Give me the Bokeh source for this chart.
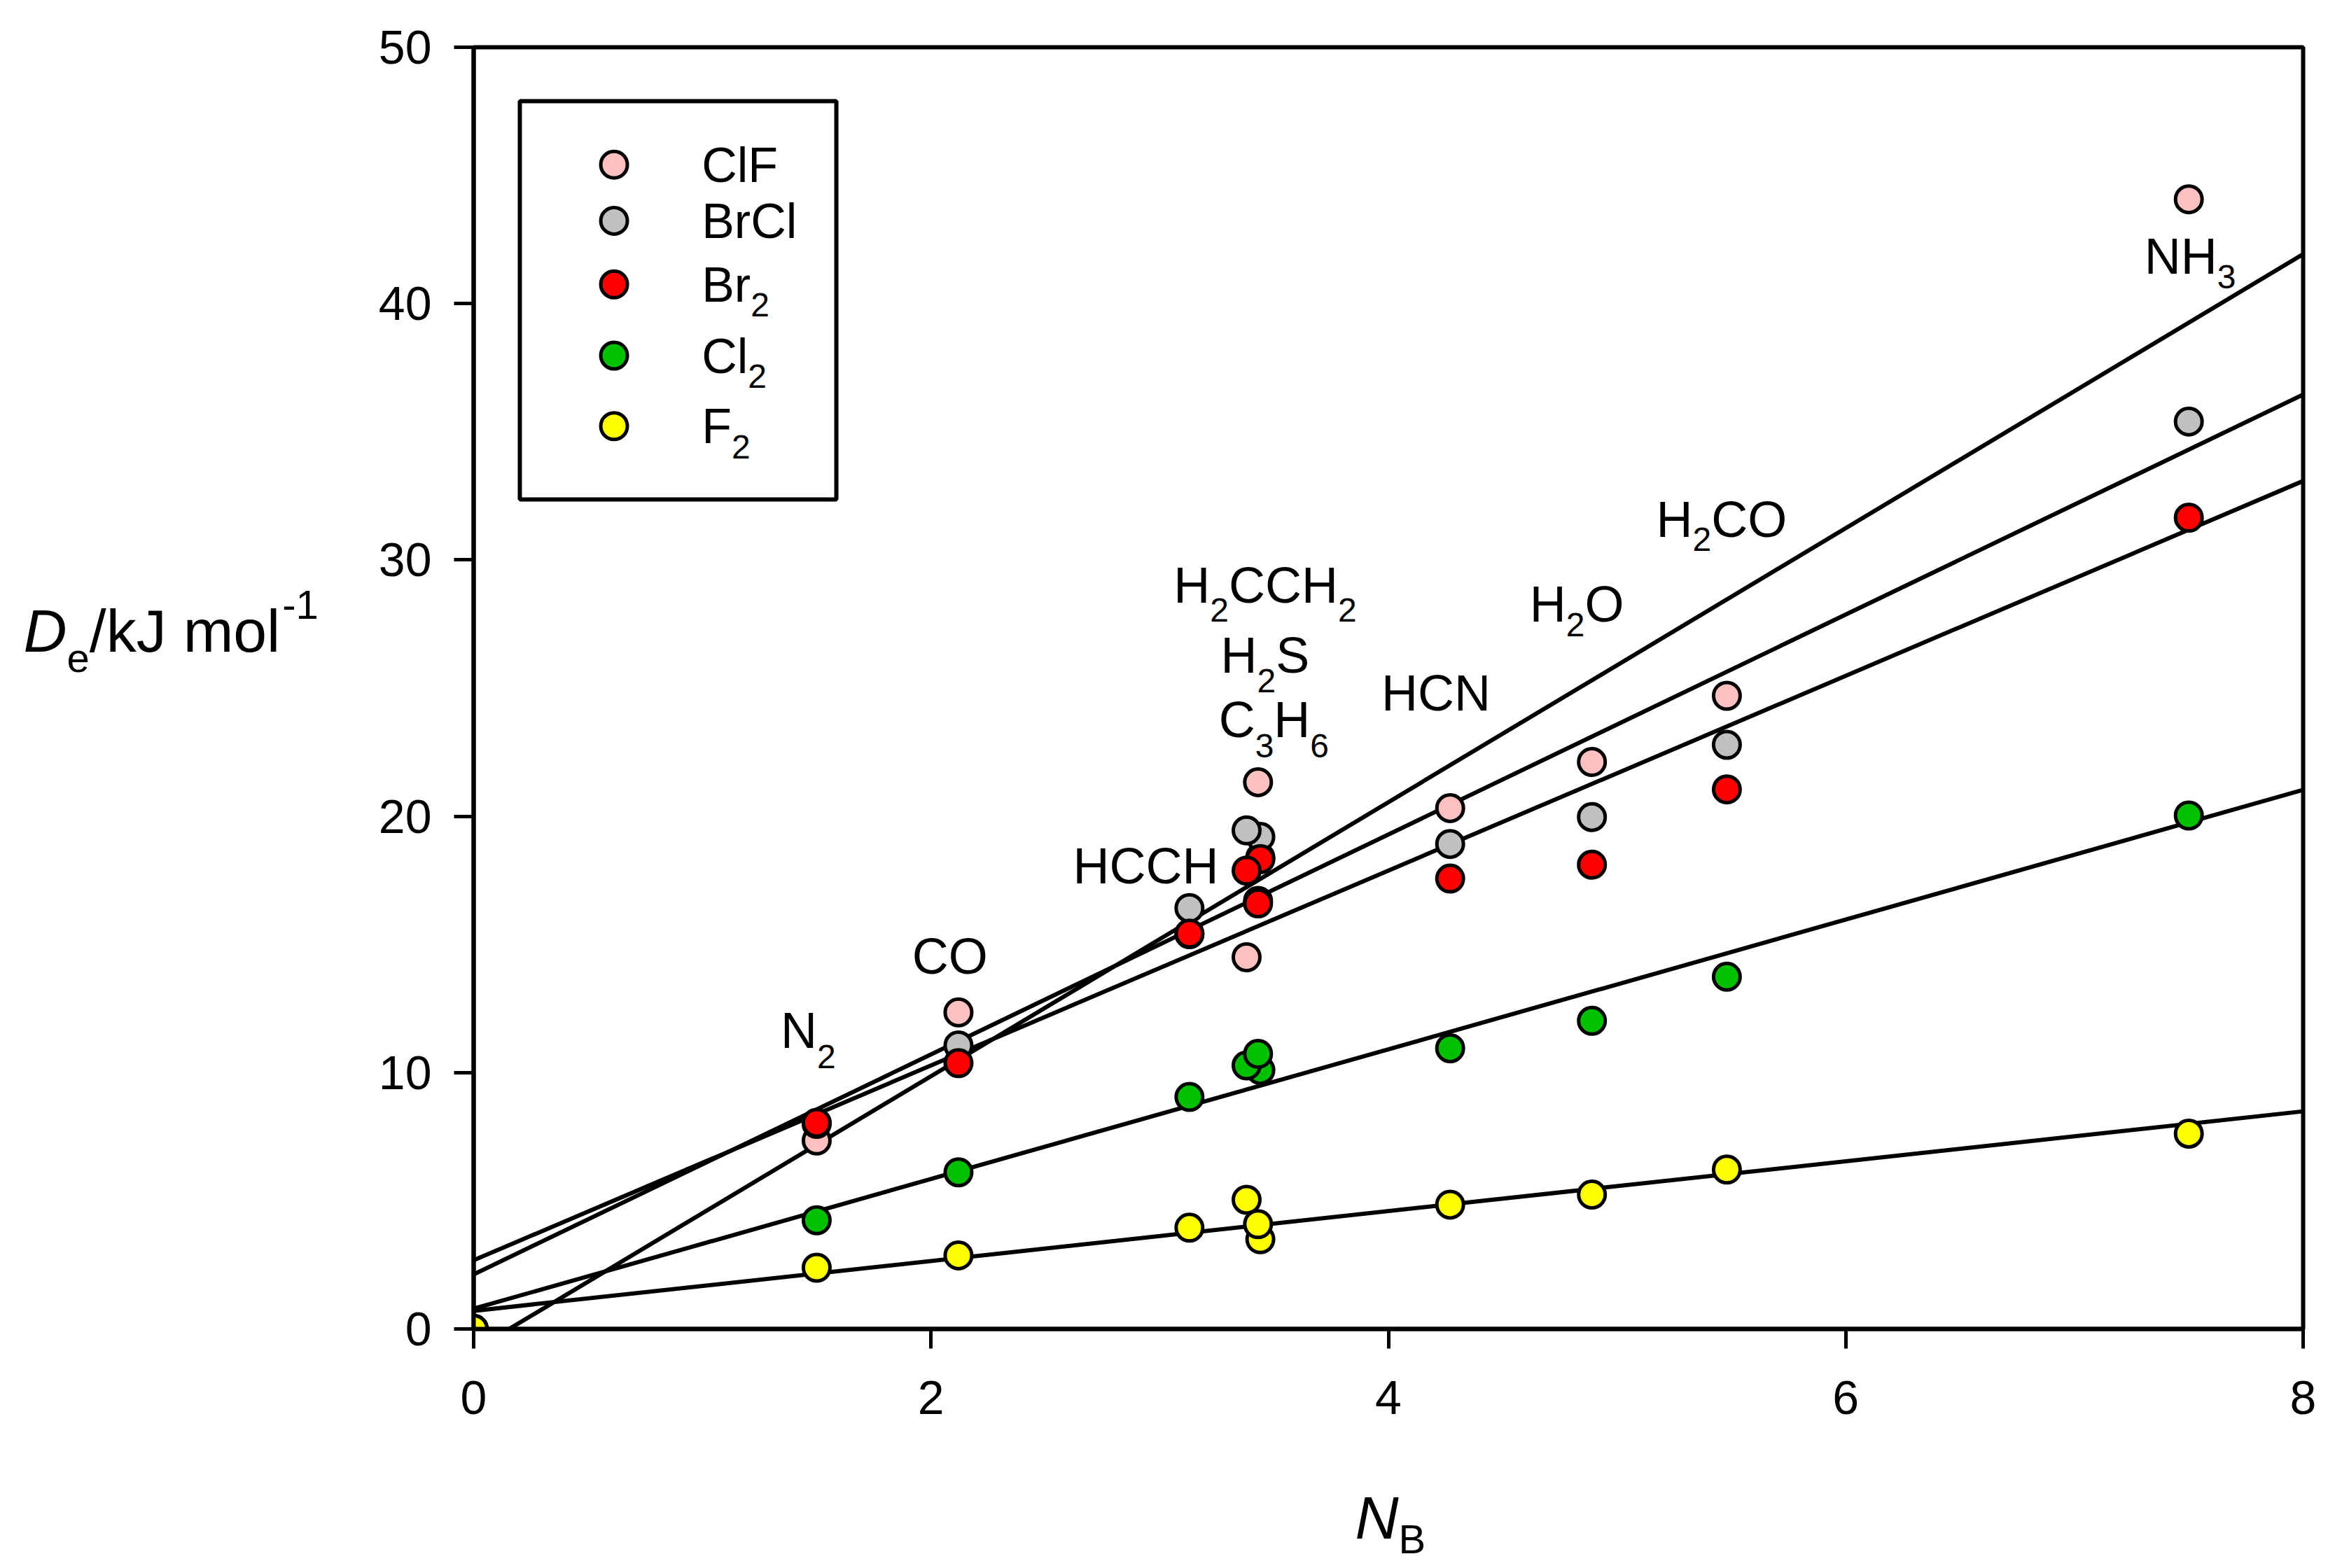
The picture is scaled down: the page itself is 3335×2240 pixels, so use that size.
from bokeh.plotting import figure
from bokeh.models import Range1d, FixedTicker, ColumnDataSource
from bokeh.layouts import row, column
from bokeh.embed import file_html
from bokeh.resources import INLINE
from bokeh.core.properties import value

# ---------------- data ----------------
molecules = ["origin", "N2", "CO", "HCCH", "H2CCH2", "H2S", "C3H6", "HCN", "H2O", "H2CO", "NH3"]
n_b = [0.0, 1.50, 2.12, 3.13, 3.44, 3.38, 3.43, 4.27, 4.89, 5.48, 7.50]

de_clf = [0.0, 7.35, 12.35, 15.40, 18.40, 14.50, 21.33, 20.32, 22.12, 24.70, 44.07]
de_brcl = [0.0, 8.00, 11.06, 16.42, 19.20, 19.45, 16.70, 18.92, 19.97, 22.79, 35.40]
de_br2 = [0.0, 8.04, 10.37, 15.42, 18.33, 17.88, 16.60, 17.57, 18.11, 21.05, 31.65]
de_cl2 = [0.0, 4.24, 6.11, 9.05, 10.10, 10.28, 10.73, 10.95, 12.02, 13.74, 20.03]
de_f2 = [0.0, 2.39, 2.87, 3.95, 3.50, 5.04, 4.09, 4.85, 5.24, 6.22, 7.62]

series_names = ["ClF", "BrCl", "Br2", "Cl2", "F2"]
series_values = [de_clf, de_brcl, de_br2, de_cl2, de_f2]
series_colors = ["#FFC0C0", "#C0C0C0", "#FF0000", "#00C000", "#FFFF00"]

# linear fits drawn in the reference (intercept, slope)
fit_intercept = [-0.83, 2.13, 2.68, 0.79, 0.705]
fit_slope = [5.345, 4.29, 3.80, 2.53, 0.973]
fit_x = [0.0, 8.0]

x_ticks = [0, 2, 4, 6, 8]
y_ticks = [0, 10, 20, 30, 40, 50]

# molecule labels drawn on the chart: text, anchor centre x, baseline y, subscript drop (px)
mol_labels = ["N2", "CO", "HCCH", "H2CCH2", "H2S", "C3H6", "HCN", "H2O", "H2CO", "NH3"]
mol_label_x = [1.463, 2.083, 2.939, 3.461, 3.461, 3.499, 4.208, 4.824, 5.457, 7.506]
mol_label_y = [10.97, 13.84, 17.38, 28.32, 25.59, 23.07, 24.11, 27.59, 30.88, 41.15]
mol_label_drop = [30, 0, 0, 27, 28, 29, 0, 21, 20, 21]

# ---------------- layout ----------------
FONT = "Liberation Sans"
FRAME_W, FRAME_H = 2613, 1831
X0, X1, Y0, Y1 = 0.0, 8.0, 0.0, 50.0
PXX = FRAME_W / (X1 - X0)
PXY = FRAME_H / (Y1 - Y0)

YL_W = 508                      # width of the y-title panel
MAIN_LEFT = 676 - YL_W          # left border of the main plot
MAIN_TOP = 67
MAIN_BOTTOM = 170
MAIN_RIGHT = 30
MAIN_H = MAIN_TOP + FRAME_H + MAIN_BOTTOM
TOTAL_W = YL_W + MAIN_LEFT + FRAME_W + MAIN_RIGHT
XL_H = 2232 - MAIN_H            # height of the x-title panel
MID = 0.35                      # text middle above baseline, in em
YL_SHIFT = 69                   # measured vertical offset of the y-title panel in the row

# Arial / Liberation Sans advance widths (per 1000 em)
W = {"H": 722, "C": 722, "N": 722, "O": 778, "S": 667, "F": 611, "l": 222, "B": 667,
     "r": 333, "D": 722, "e": 556, "/": 278, "k": 500, "J": 500, " ": 278, "m": 833,
     "o": 556, "-": 333}
for d in "0123456789":
    W[d] = 556


def seg_w(s, size):
    return sum(W.get(c, 556) for c in s) / 1000.0 * size


def parse(s):
    segs = []
    for ch in s:
        sub = ch.isdigit()
        if segs and segs[-1][1] == sub:
            segs[-1] = (segs[-1][0] + ch, sub)
        else:
            segs.append((ch, sub))
    return segs


def layout_formula(text, x, base_y, size, sub_size, drop, center=True):
    """pieces in data units; y returned is the vertical middle of each piece"""
    segs = parse(text)
    total = sum(seg_w(t, sub_size if sb else size) for t, sb in segs)
    cur = x - total / 2.0 / PXX if center else x
    out = []
    for t, sb in segs:
        sz = sub_size if sb else size
        yb = base_y - (drop / PXY if sb else 0.0)
        out.append((cur, yb + MID * sz / PXY, t, "%dpx" % sz))
        cur += seg_w(t, sz) / PXX
    return out


def blank_panel(w, h):
    f = figure(frame_width=w, frame_height=h, x_range=Range1d(0, w), y_range=Range1d(0, h),
               x_axis_type=None, y_axis_type=None, output_backend="svg",
               toolbar_location=None, title=None,
               min_border_left=0, min_border_right=0, min_border_top=0, min_border_bottom=0)
    f.outline_line_color = None
    f.grid.visible = False
    f.background_fill_color = "white"
    f.border_fill_color = "white"
    return f


p = figure(x_range=Range1d(X0, X1), y_range=Range1d(Y0, Y1),
           frame_width=FRAME_W, frame_height=FRAME_H,
           min_border_left=MAIN_LEFT, min_border_right=MAIN_RIGHT,
           min_border_top=MAIN_TOP, min_border_bottom=MAIN_BOTTOM,
           output_backend="svg", toolbar_location=None)

p.background_fill_color = "white"
p.border_fill_color = "white"
p.outline_line_color = "black"
p.outline_line_width = 6
p.grid.visible = False

for ax, ticks in ((p.xaxis, x_ticks), (p.yaxis, y_ticks)):
    ax.ticker = FixedTicker(ticks=ticks)
    ax.axis_line_width = 6
    ax.axis_line_color = "black"
    ax.major_tick_line_width = 5
    ax.major_tick_line_color = "black"
    ax.major_tick_in = 0
    ax.major_tick_out = 28
    ax.minor_tick_line_color = None
    ax.major_label_text_font = FONT
    ax.major_label_text_font_size = "68px"
    ax.major_label_text_color = "black"
p.xaxis.major_label_standoff = 46
p.yaxis.major_label_standoff = 32

# fit lines
for b, m in zip(fit_intercept, fit_slope):
    p.line(fit_x, [b + m * xx for xx in fit_x], line_color="black", line_width=6)

# data points
for vals, col in zip(series_values, series_colors):
    p.scatter(n_b, vals, size=38, marker="circle", fill_color=col,
              line_color="black", line_width=5)

# molecule labels
rows = []
for t, lx, ly, dr in zip(mol_labels, mol_label_x, mol_label_y, mol_label_drop):
    rows += layout_formula(t, lx, ly, 72, 48, dr)

# legend box
leg_left, leg_right, leg_bottom, leg_top = 0.202, 1.586, 32.36, 47.9
p.quad(left=[leg_left], right=[leg_right], bottom=[leg_bottom], top=[leg_top],
       fill_color="white", line_color="black", line_width=6)
leg_rows_y = [45.42, 43.23, 40.75, 37.97, 35.22]
leg_marker_x = 0.614
leg_text_x = 0.997
for name, col, ry in zip(series_names, series_colors, leg_rows_y):
    p.scatter([leg_marker_x], [ry], size=38, marker="circle", fill_color=col,
              line_color="black", line_width=5)
    rows += layout_formula(name, leg_text_x, ry - 0.716 * 70 / 2 / PXY, 70, 48, 21, center=False)

src = ColumnDataSource(dict(x=[r[0] for r in rows], y=[r[1] for r in rows],
                            text=[r[2] for r in rows], size=[r[3] for r in rows]))
p.text(x="x", y="y", text="text", text_font_size="size", source=src,
       text_font=value(FONT), text_align="left", text_baseline="middle",
       text_color="black")


def panel_text(f, h, pieces):
    """pieces: (x, baseline_y_from_top, text, size, italic)"""
    for x, yb, t, sz, it in pieces:
        f.text(x=[x], y=[h - (yb - MID * sz)], text=[t], text_font=value(FONT),
               text_font_size="%dpx" % sz, text_font_style="italic" if it else "normal",
               text_align="left", text_baseline="middle", text_color="black")


# y title panel: D_e/kJ mol^-1
ylab = blank_panel(YL_W, MAIN_H)
yx, yb = 33, 933 - YL_SHIFT
c1 = yx + seg_w("D", 86)
c2 = c1 + seg_w("e", 58)
c3 = c2 + seg_w("/kJ mol", 86) + 3
panel_text(ylab, MAIN_H, [(yx, yb, "D", 86, True), (c1, yb + 29, "e", 58, False),
                          (c2, yb, "/kJ mol", 86, False), (c3, yb - 47, "-1", 58, False)])

# x title panel: N_B
xlab = blank_panel(TOTAL_W, XL_H)
nx, nb = 1935, 2198 - MAIN_H
panel_text(xlab, XL_H, [(nx, nb, "N", 86, True), (nx + seg_w("N", 86), nb + 20, "B", 58, False)])

layout = column(row(ylab, p, spacing=0), xlab, spacing=0)
open("out.html", "w").write(file_html(layout, INLINE))
